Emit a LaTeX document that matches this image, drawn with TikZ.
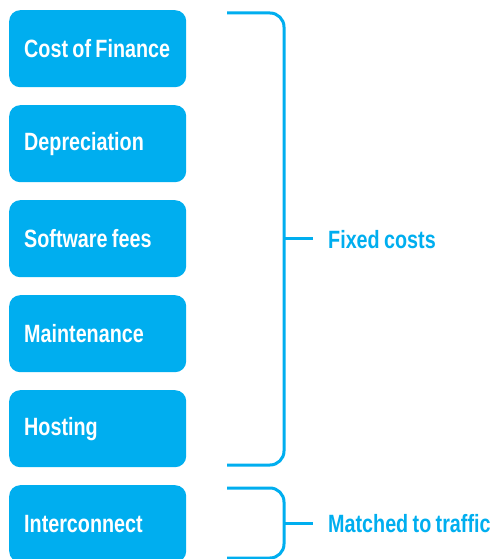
\documentclass[tikz,border=0pt]{standalone}
\usepackage{fontspec}
\setmainfont[FakeStretch=0.79,WordSpace=0.8]{Liberation Sans}
\definecolor{cyanblue}{HTML}{00AEEF}
\begin{document}
\begin{tikzpicture}[x=1pt,y=-1pt,
  costbox/.style={fill=cyanblue, rounded corners=11pt, text=white, font=\bfseries\fontsize{25}{28}\selectfont,
    minimum width=177pt, inner xsep=15pt, minimum height=77pt, anchor=north west, inner ysep=0pt},
  bracketline/.style={draw=cyanblue, line width=3pt, rounded corners=14pt},
  tickline/.style={draw=cyanblue, line width=3pt},
  bracketlabel/.style={text=cyanblue, font=\bfseries\fontsize{25}{28}\selectfont, anchor=west, inner sep=0pt}]
\useasboundingbox (0,0) rectangle (499,559);
\newcommand\boxtext[1]{\makebox[147pt][l]{#1}}
\node[costbox] (n1) at (9,10) {\boxtext{Cost of Finance}};
\node[costbox] (n2) at (9,105) {\boxtext{Depreciation}};
\node[costbox] (n3) at (9,200) {\boxtext{Software fees}};
\node[costbox] (n4) at (9,295) {\boxtext{Maintenance}};
\node[costbox] (n5) at (9,390) {\boxtext{Hosting}};
\node[costbox] (n6) at (9,485) {\boxtext{Interconnect}};
% fixed costs bracket
\coordinate (a1) at (227,13);
\coordinate (a2) at (227,465);
\coordinate (am) at (284,238);
\coordinate (at) at (313,238);
\draw[bracketline] (a1) -- (284,13) -- (284,465) -- (a2);
\draw[tickline] (am) -- (at);
\node[bracketlabel] (fixed) at (328,240) {Fixed costs};
% matched bracket
\coordinate (b1) at (227,488);
\coordinate (b2) at (227,558);
\coordinate (bm) at (284,523);
\coordinate (bt) at (313,523);
\draw[bracketline] (b1) -- (284,488) -- (284,558) -- (b2);
\draw[tickline] (bm) -- (bt);
\node[bracketlabel] (matched) at (328,524) {Matched to traffic};
\end{tikzpicture}
\end{document}
